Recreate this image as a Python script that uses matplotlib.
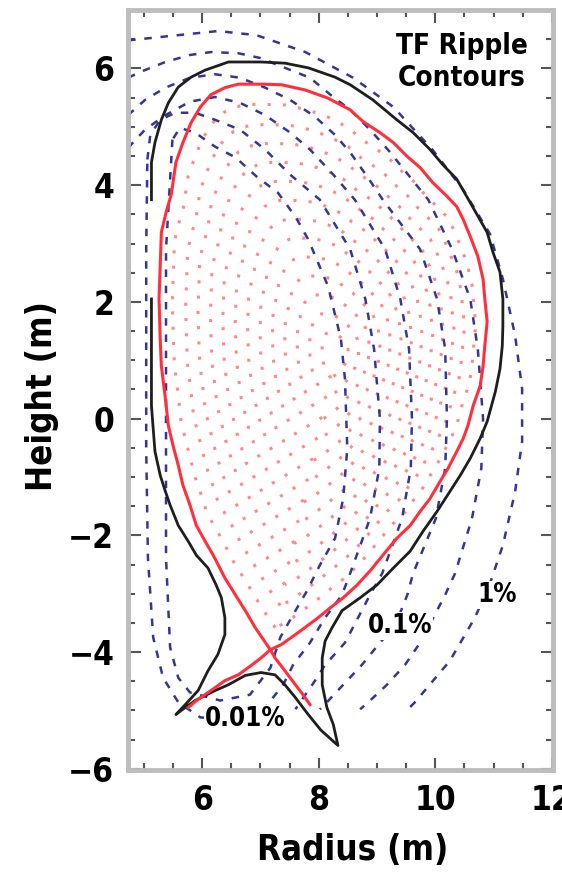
import matplotlib
matplotlib.use('Agg')
import matplotlib.pyplot as plt
from matplotlib.ticker import MultipleLocator

# first wall / vacuum vessel (R, Z in m), closed
wall_r = [5.13, 5.13, 5.19, 5.30, 5.42, 5.59, 5.81, 6.05, 6.45, 7.01, 7.42, 7.82, 8.28, 8.54,
          8.93, 9.34, 9.62, 9.91, 10.13, 10.37, 10.60, 10.89, 10.99, 11.11, 11.16, 11.16, 11.15,
          11.11, 11.03, 10.89, 10.77, 10.60, 10.43, 10.25, 10.03, 9.79, 9.57, 9.28, 9.00, 8.71,
          8.40, 8.23, 8.11, 8.06, 8.06, 8.14, 8.25, 8.33, 8.04, 7.82, 7.60, 7.42, 7.25, 7.01,
          6.74, 6.45, 6.22, 5.88, 5.64, 5.55, 5.71, 5.93, 6.10, 6.27, 6.39, 6.39, 6.33, 6.24,
          6.10, 5.90, 5.76, 5.59, 5.45, 5.37, 5.28, 5.19, 5.13, 5.13]
wall_z = [3.75, 4.39, 4.73, 5.12, 5.41, 5.68, 5.85, 5.97, 6.11, 6.11, 6.09, 6.01, 5.85, 5.72,
          5.46, 5.12, 4.90, 4.61, 4.35, 4.10, 3.70, 3.19, 2.85, 2.51, 2.05, 1.59, 1.25,
          0.85, 0.46, -0.05, -0.34, -0.68, -0.97, -1.25, -1.59, -1.93, -2.27, -2.56, -2.85, -3.07,
          -3.29, -3.58, -3.81, -4.10, -4.56, -4.95, -5.24, -5.60, -5.34, -5.07, -4.78, -4.56, -4.39, -4.35,
          -4.40, -4.56, -4.66, -4.83, -5.00, -5.07, -4.90, -4.66, -4.32, -4.04, -3.70, -3.41, -3.07, -2.85,
          -2.56, -2.34, -2.10, -1.83, -1.48, -1.25, -0.97, -0.56, 0.22, 2.05]

# separatrix (core part through the X-point), closed
sep_r = [7.17, 6.91, 6.74, 6.57, 6.39, 6.19, 6.05, 5.90, 5.79, 5.67, 5.59, 5.50, 5.42, 5.37,
         5.30, 5.28, 5.26, 5.28, 5.30, 5.38, 5.47, 5.55, 5.67, 5.81, 5.97, 6.15, 6.39, 6.62,
         7.01, 7.36, 7.77, 8.16, 8.54, 8.76, 9.05, 9.28, 9.52, 9.74, 9.96, 10.20, 10.37, 10.48,
         10.60, 10.73, 10.82, 10.85, 10.89, 10.85, 10.82, 10.77, 10.65, 10.56, 10.48, 10.37,
         10.22, 10.08, 9.91, 9.74, 9.57, 9.34, 9.10, 8.88, 8.66, 8.42, 8.20, 7.94, 7.60, 7.36, 7.17]
sep_z = [-3.96, -3.58, -3.29, -3.02, -2.73, -2.34, -2.10, -1.83, -1.48, -1.14, -0.80, -0.46, -0.12, 0.34,
         0.90, 1.37, 2.05, 2.61, 3.19, 3.53, 3.84, 4.39, 4.73, 5.07, 5.34, 5.55, 5.67, 5.73,
         5.73, 5.72, 5.63, 5.49, 5.29, 5.09, 4.90, 4.73, 4.49, 4.30, 4.04, 3.81, 3.63, 3.41,
         3.12, 2.78, 2.39, 2.05, 1.66, 1.25, 0.90, 0.56, 0.22, -0.12, -0.34, -0.56,
         -0.85, -1.08, -1.37, -1.59, -1.83, -2.05, -2.34, -2.61, -2.85, -3.07, -3.24, -3.45, -3.70, -3.87, -3.96]

# divertor legs of the separatrix
leg_in_r = [7.17, 7.01, 6.84, 6.62, 6.39, 6.15, 5.93, 5.76]
leg_in_z = [-3.96, -4.10, -4.23, -4.39, -4.49, -4.66, -4.81, -4.95]
leg_out_r = [7.17, 7.25, 7.42, 7.60, 7.73, 7.85]
leg_out_z = [-3.96, -4.10, -4.32, -4.56, -4.73, -4.90]

# magnetic axis and relative size of the plotted flux surfaces
axis_r, axis_z = 8.3, 1.1
rho_levels = [0.08, 0.15, 0.22, 0.29, 0.36, 0.43, 0.50, 0.57, 0.64, 0.71, 0.78, 0.85, 0.925]

# TF ripple contours, innermost to outermost
rip1_r = [5.49, 5.38, 5.38, 5.38, 5.45, 5.59, 5.79, 6.31, 6.82, 7.17, 7.34, 7.56, 7.80, 8.02,
          8.28, 8.42, 8.49, 8.45, 8.38, 8.16, 7.82, 7.60, 7.30, 6.93, 6.58, 6.22, 5.88, 5.62, 5.49]
rip1_z = [4.78, 2.90, 0.34, -2.39, -3.92, -4.44, -4.69, -4.83, -4.73, -4.27, -3.75, -3.36, -2.95, -2.51,
          -2.05, -1.37, -0.51, 0.68, 1.37, 2.27, 3.07, 3.46, 3.87, 4.15, 4.47, 4.66, 4.90, 4.98, 4.78]
rip2_r = [5.06, 5.11, 5.28, 5.54, 5.88, 6.22, 6.65, 7.08, 7.51, 8.02, 8.54, 8.80, 8.95, 9.05,
          9.04, 8.88, 8.54, 8.40, 8.11, 7.85, 7.56, 7.39, 7.08, 6.57, 5.97, 5.59, 5.33, 5.16,
          5.07, 5.04, 5.04, 5.04, 5.06]
rip2_z = [4.44, 4.86, 5.12, 5.24, 5.24, 5.12, 4.95, 4.61, 4.18, 3.75, 2.90, 2.05, 1.19, 0.0,
          -0.85, -1.71, -2.65, -3.02, -3.41, -3.84, -4.22, -4.56, -4.95, -5.15, -5.12, -4.86, -4.44, -3.75,
          -2.39, -0.51, 1.19, 2.90, 4.44]
rip3_r = [4.73, 5.02, 5.37, 5.79, 6.22, 6.65, 7.08, 7.51, 7.85, 8.25, 8.62, 9.14, 9.40, 9.55,
          9.60, 9.58, 9.43, 9.09, 8.88, 8.45, 8.11, 7.89, 7.68, 7.60]
rip3_z = [4.64, 4.95, 5.20, 5.43, 5.51, 5.41, 5.20, 4.90, 4.61, 4.18, 3.75, 2.90, 2.05, 1.19,
          0.0, -0.85, -1.71, -2.65, -3.02, -3.84, -4.22, -4.56, -4.86, -4.98]
rip4_r = [4.73, 5.02, 5.37, 5.79, 6.22, 6.65, 7.08, 7.51, 7.94, 8.28, 8.54, 8.83, 9.10, 9.74,
          10.03, 10.17, 10.20, 10.17, 10.01, 9.62, 9.52, 9.31, 9.05, 8.74, 8.42, 8.14, 8.02]
rip4_z = [5.20, 5.46, 5.67, 5.84, 5.90, 5.84, 5.67, 5.46, 5.17, 4.86, 4.56, 4.15, 3.75, 2.90,
          2.05, 1.19, 0.0, -0.85, -1.71, -2.65, -3.02, -3.55, -3.84, -4.22, -4.56, -4.86, -4.98]
rip5_r = [4.73, 4.94, 5.37, 5.79, 6.15, 6.62, 6.99, 7.42, 7.85, 8.20, 8.54, 8.88, 9.22, 9.88,
          10.29, 10.60, 10.73, 10.82, 10.79, 10.63, 10.34, 10.17, 9.74, 9.48, 9.17, 8.85, 8.71]
rip5_z = [5.84, 5.94, 6.11, 6.23, 6.28, 6.26, 6.18, 6.01, 5.84, 5.55, 5.29, 4.95, 4.57, 3.75,
          2.90, 2.05, 1.19, 0.0, -0.85, -1.71, -2.65, -3.02, -3.84, -4.22, -4.56, -4.86, -4.98]
rip6_r = [4.73, 5.59, 6.27, 6.93, 7.77, 8.59, 9.28, 9.95, 10.48, 10.94, 11.16, 11.37, 11.49,
          11.49, 11.37, 11.16, 10.94, 10.68, 10.25, 9.65, 9.48]
rip6_z = [6.48, 6.57, 6.64, 6.57, 6.28, 5.84, 5.34, 4.61, 3.92, 3.16, 2.39, 1.42, 0.51,
          -0.39, -1.25, -2.17, -2.82, -3.41, -4.15, -4.86, -5.03]

ripple_labels = ['1%', '0.1%', '0.01%']
label_r = [11.06, 9.40, 6.74]
label_z = [-3.02, -3.55, -5.15]

# bold condensed sans, close to the narrow Helvetica of the original
plt.rcParams['font.family'] = ['DejaVu Sans']
plt.rcParams['font.stretch'] = 'condensed'
plt.rcParams['font.weight'] = 'bold'

fig = plt.figure(figsize=(5.62, 8.73), dpi=100)
ax = fig.add_axes([0.228, 0.118, 0.756, 0.8705])

# flux surfaces (pink dotted)
for rho in rho_levels:
    rr = [axis_r + rho * (r - axis_r) for r in sep_r]
    zz = [axis_z + rho * (z - axis_z) for z in sep_z]
    ax.plot(rr, zz, color='#ff6a6a', lw=2.2, ls=(0, (1, 4)), alpha=0.8, zorder=1)

# ripple contours (blue dashed)
for rr, zz in [(rip1_r, rip1_z), (rip2_r, rip2_z), (rip3_r, rip3_z),
               (rip4_r, rip4_z), (rip5_r, rip5_z), (rip6_r, rip6_z)]:
    ax.plot(rr, zz, color='#36368f', lw=1.8, ls=(0, (3, 3.5)), zorder=2)

ax.plot(wall_r, wall_z, color='#1e1e1e', lw=2.0, zorder=3)
ax.plot(sep_r, sep_z, color='#ff2f3c', lw=2.2, zorder=4)
ax.plot(leg_in_r, leg_in_z, color='#ff2f3c', lw=2.2, zorder=4)
ax.plot(leg_out_r, leg_out_z, color='#ff2f3c', lw=2.2, zorder=4)

for txt, r, z in zip(ripple_labels, label_r, label_z):
    ax.text(r, z, txt, ha='center', va='center', fontsize=18.5, fontweight='bold',
            bbox=dict(facecolor='white', edgecolor='none', pad=0.5), zorder=5)

ax.text(10.46, 6.11, 'TF Ripple\nContours', ha='center', va='center',
        fontsize=20, fontweight='bold', linespacing=1.15, zorder=5)

ax.set_xlim(4.73, 12.02)
ax.set_ylim(-6.02, 7.0)
ax.xaxis.set_major_locator(MultipleLocator(2))
ax.xaxis.set_minor_locator(MultipleLocator(0.5))
ax.yaxis.set_major_locator(MultipleLocator(2))
ax.yaxis.set_minor_locator(MultipleLocator(0.5))
ax.tick_params(which='both', direction='in', top=True, right=True, color='#555555', width=1.5,
               labelsize=24)
ax.tick_params(which='major', length=9, pad=10)
ax.tick_params(which='minor', length=5)
for s in ax.spines.values():
    s.set_color('#bdbdbd')
    s.set_linewidth(3.5)

ax.set_xlabel('Radius (m)', fontsize=25, fontweight='bold', va='center')
ax.xaxis.set_label_coords(0.529, -0.105)
ax.set_ylabel('Height (m)', fontsize=25, fontweight='bold', va='center')
ax.yaxis.set_label_coords(-0.202, 0.492)

fig.savefig('out.png', dpi=100)
